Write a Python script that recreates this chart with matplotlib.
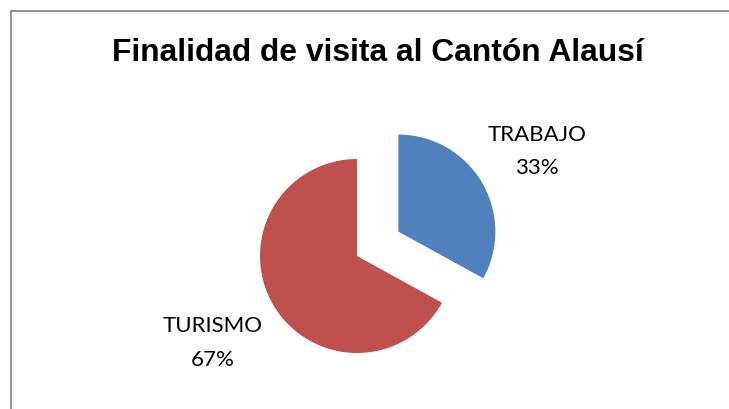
import matplotlib
matplotlib.use("Agg")
import matplotlib.pyplot as plt
from matplotlib.patches import Rectangle

# Visit purpose shares (percent)
categories = ["TRABAJO", "TURISMO"]
shares = [33, 67]
colors = ["#4F81BD", "#C0504D"]
title = "Finalidad de visita al Cantón Alausí"

W, H = 729, 409
fig = plt.figure(figsize=(W / 100, H / 100), dpi=100)
ax = fig.add_axes([0, 0, 1, 1])
ax.set_xlim(0, W)
ax.set_ylim(0, H)
ax.set_aspect("equal")
ax.axis("off")

# Chart area frame (right and bottom edges fall outside the canvas)
ax.add_patch(Rectangle((11, -20), W + 40, H - 11 + 20, fill=False,
                       edgecolor="#888888", linewidth=1.3))

ax.text(378, H - 61, title, ha="center", va="baseline",
        fontsize=22.9, fontweight="bold", family="Liberation Sans", color="black")

# Pie in pixel-scaled data units; explode offset is given in the same units
radius = 97
ax.pie(shares, colors=colors, startangle=90, counterclock=False,
       center=(357, H - 256), radius=radius, explode=[48, 0],
       wedgeprops=dict(linewidth=0))
ax.set_xlim(0, W)
ax.set_ylim(0, H)

# Data labels: category name above its percentage (baselines)
label_pos = [(537, H - 141, H - 173.5), (213, H - 332, H - 365.5)]
for name, val, (x, y1, y2) in zip(categories, shares, label_pos):
    ax.text(x, y1, name, ha="center", va="baseline",
            fontsize=16, family="Lato", color="black")
    ax.text(x, y2, f"{val}%", ha="center", va="baseline",
            fontsize=16, family="Lato", color="black")

fig.savefig("out.png", dpi=100)
